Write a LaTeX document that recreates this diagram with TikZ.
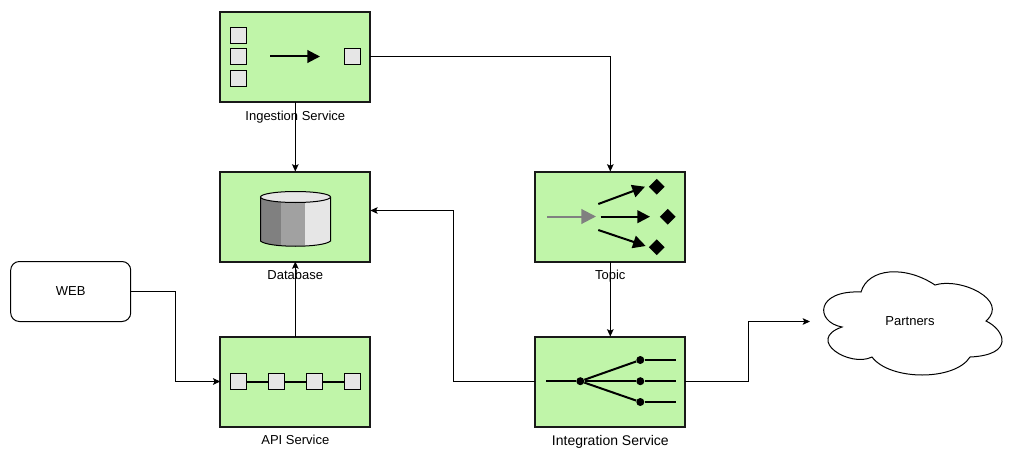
\documentclass[tikz,border=0pt]{standalone}
\usepackage{fontspec}
\setmainfont{Liberation Sans}
\usetikzlibrary{arrows.meta}
\usetikzlibrary{positioning}
\usetikzlibrary{shapes.geometric}
\definecolor{boxgreen}{HTML}{C0F5A9}
\definecolor{tilegray}{HTML}{E6E6E6}
\tikzset{>={Stealth[length=5.5pt,width=5pt,inset=1.2pt]},
    box/.style={
        draw=black!90,
        fill=boxgreen,
        line width=1.5pt,
        minimum width=112.5pt,
        minimum height=67.5pt,
        inner sep=0pt,
        outer sep=0pt},
    caption/.style={
        font=\fontsize{9.75pt}{11pt}\selectfont,
        inner sep=0pt},
    tile/.style={
        draw,
        fill=tilegray,
        line width=0.75pt,
        minimum size=12pt,
        inner sep=0pt,
        outer sep=0pt},
    conn/.style={
        draw,
        ->,
        line width=0.75pt},
    bigarrow/.style={
        draw,
        line width=1.5pt,
        -{Triangle[length=9.5pt,width=9.5pt]}},
    gem/.style={
        diamond,
        fill=black,
        minimum size=12pt,
        inner sep=0pt},
    dot/.style={
        circle,
        fill=black,
        minimum size=6pt,
        inner sep=0pt},
    wire/.style={
        draw,
        line width=1.5pt}}

\begin{document}
\begin{tikzpicture}[x=0.75pt,y=-0.75pt]
        \useasboundingbox (0,0) rectangle (1021,460);

        \node[box] (ingest) at (295.3,56.8) {};
        \node[box] (db) at (295.3,216.5) {};
        \node[box] (topic) at (610.3,216.5) {};
        \node[box] (api) at (295.3,381.5) {};
        \node[box] (integ) at (610.3,381.5) {};
        \node[draw,line width=0.75pt,rounded corners=6.5pt,minimum width=90pt,minimum height=45pt,inner sep=0pt,outer sep=0pt,
            font=\fontsize{9.75pt}{11pt}\selectfont] (web) at (70.7,291.5) {WEB};

        \node[caption,below=6.7pt of ingest] (ingestlbl) {Ingestion Service};
        \node[caption,below=6.5pt of db] (dblbl) {Database};
        \node[caption,below=6.5pt of topic] (topiclbl) {Topic};
        \node[caption,below=6.5pt of api] (apilbl) {API Service};
        \node[caption,below=6.5pt of integ,font=\fontsize{10.5pt}{12pt}\selectfont] (integlbl) {Integration Service};

        % ingestion icon
        \node[tile] (in1) at (238.5,35.5) {};
        \node[tile] (in2) at (238.5,56.5) {};
        \node[tile] (in3) at (238.5,79) {};
        \node[tile] (out1) at (352.5,56.5) {};
        \coordinate (flowa) at (270,56.5);
        \coordinate (flowb) at (320,56.5);
        \draw[bigarrow] (flowa) -- (flowb);

        % database icon
        \begin{scope}
            \clip (260.5,197) -- (260.5,241) .. controls (268,248) and (323,248) .. (330.5,241)
                -- (330.5,197) -- cycle;
            \fill[black!50] (260.5,190) rectangle (280.5,250);
            \fill[black!37] (280.5,190) rectangle (305,250);
            \fill[tilegray] (305,190) rectangle (330.5,250);
        \end{scope}
        \draw[line width=0.75pt] (260.5,197) -- (260.5,241) .. controls (268,248) and (323,248) .. (330.5,241)
            -- (330.5,197);
        \draw[line width=0.75pt,fill=tilegray] (295.5,197) ellipse[x radius=35,y radius=5.5];

        % topic icon
        \coordinate (pubin) at (547,216.5);
        \coordinate (pubout) at (596,216.5);
        \draw[bigarrow,gray,line width=1.5pt,-{Triangle[length=11pt,width=11pt]}] (pubin) -- (pubout);
        \node[gem] (sub1) at (656.7,186.7) {};
        \node[gem] (sub2) at (667.7,216.7) {};
        \node[gem] (sub3) at (656.7,247.3) {};
        \coordinate (fan1) at (598.3,204);
        \coordinate (fan2) at (600.7,216.7);
        \coordinate (fan3) at (598.3,230);
        \coordinate (tip1) at (645,186.7);
        \coordinate (tip2) at (650,216.7);
        \coordinate (tip3) at (645.7,246);
        \draw[bigarrow] (fan1) -- (tip1);
        \draw[bigarrow] (fan2) -- (tip2);
        \draw[bigarrow] (fan3) -- (tip3);

        % api icon
        \node[tile] (st1) at (238.5,381.5) {};
        \node[tile] (st2) at (276.5,381.5) {};
        \node[tile] (st3) at (314.5,381.5) {};
        \node[tile] (st4) at (352.5,381.5) {};
        \draw[wire] (st1) -- (st2);
        \draw[wire] (st2) -- (st3);
        \draw[wire] (st3) -- (st4);

        % integration icon
        \coordinate (rootin) at (546,381.2);
        \node[dot] (root) at (580.3,381.2) {};
        \node[dot] (leaf1) at (640.3,360) {};
        \node[dot] (leaf2) at (640.3,381.2) {};
        \node[dot] (leaf3) at (640.3,402) {};
        \coordinate (end1) at (676,360);
        \coordinate (end2) at (676,381.2);
        \coordinate (end3) at (676,402);
        \draw[wire] (rootin) -- (root);
        \draw[wire] (root) -- (leaf1);
        \draw[wire] (root) -- (leaf2);
        \draw[wire] (root) -- (leaf3);
        \draw[wire] (leaf1) -- (end1);
        \draw[wire] (leaf2) -- (end2);
        \draw[wire] (leaf3) -- (end3);

        % partners cloud
        \draw[line width=0.75pt] (861,292) .. controls (868,268) and (905,265) .. (935,285)
            .. controls (960,277) and (1010,300) .. (986,321)
            .. controls (1005,330) and (1015,355) .. (970,357)
            .. controls (955,381) and (890,381) .. (872,357)
            .. controls (850,368) and (805,340) .. (842,327)
            .. controls (815,322) and (815,290) .. (861,292) -- cycle;
        \node[font=\fontsize{9.75pt}{11pt}\selectfont] (partners) at (910,321) {Partners};
        \coordinate (partnersin) at (810,321.5);

        \draw[conn] (ingest) -- (db);
        \draw[conn] (ingest.east) -| (topic.north);
        \draw[conn] (topic) -- (integ);
        \draw[conn] (api) -- (db);
        \draw[conn] (web.east) -- ++(44.5,0) |- (api.west);
        \draw[conn] (integ.west) -- ++(-82,0) |- ([yshift=4.5pt]db.east);
        \draw[conn] (integ.east) -- ++(63,0) |- (partnersin);
    \end{tikzpicture}
\end{document}
